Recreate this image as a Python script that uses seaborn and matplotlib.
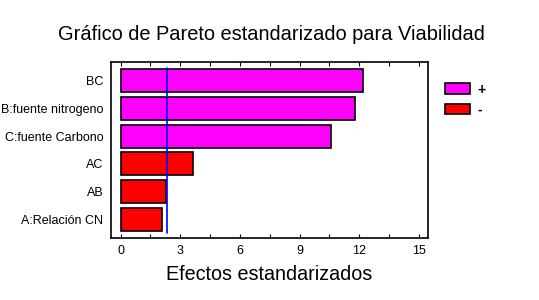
import pandas as pd
import matplotlib.pyplot as plt
import seaborn as sns
from matplotlib.patches import Patch
from matplotlib.ticker import MultipleLocator

# Efectos estandarizados
efectos = ["BC", "B:fuente nitrogeno", "C:fuente Carbono", "AC", "AB", "A:Relación CN"]
valores = [12.19, 11.8, 10.6, 3.62, 2.26, 2.06]
signo = ["+", "+", "+", "-", "-", "-"]
t_critico = 2.31
xticks = [0, 3, 6, 9, 12, 15]

colores = {"+": "#ff00ff", "-": "#ff0000"}

df = pd.DataFrame({"efecto": efectos, "valor": valores, "signo": signo})

sns.set_style("white", {"text.color": "black", "axes.labelcolor": "black",
                        "xtick.color": "black", "ytick.color": "black"})
plt.rcParams['font.family'] = ['Liberation Sans', 'DejaVu Sans']

fig = plt.figure(figsize=(5.39, 3.0), dpi=100)
ax = fig.add_axes([111 / 539, 1 - 238 / 300, 317 / 539, 176 / 300])

sns.barplot(data=df, x="valor", y="efecto", hue="signo", palette=colores,
            saturation=1, dodge=False, width=0.83, edgecolor="black",
            linewidth=1.2, legend=False, ax=ax)

ax.plot([t_critico, t_critico], [-0.45, 5.5], color="#0000ff", linewidth=1.2)

ax.set_xlim(-0.48, 15.45)
ax.set_ylim(5.67, -0.67)
ax.set_xticks(xticks)
ax.xaxis.set_minor_locator(MultipleLocator(1.5))
ax.tick_params(axis="x", which="both", direction="in", top=True, bottom=True,
               length=3, width=0.8, labelsize=9, pad=5)
ax.tick_params(axis="y", length=0, labelsize=9, pad=5.5)
for s in ax.spines.values():
    s.set_color("black")
    s.set_linewidth(1.2)

ax.set_ylabel("")
ax.set_xlabel("Efectos estandarizados", fontsize=14.2, labelpad=5.5)
fig.text(271 / 539, 1 - 35 / 300, "Gráfico de Pareto estandarizado para Viabilidad",
         ha="center", va="center", fontsize=14.4)

handles = [Patch(facecolor=colores[k], edgecolor="black", linewidth=1.2, label=k)
           for k in ["+", "-"]]
fig.legend(handles=handles, loc="upper left", bbox_to_anchor=(432 / 539, 1 - 70 / 300),
           frameon=False, prop={"size": 10, "weight": "bold"}, handlelength=1.8,
           handleheight=0.8, handletextpad=0.6, labelspacing=0.45)

plt.savefig("out.png", dpi=100)
plt.close()
